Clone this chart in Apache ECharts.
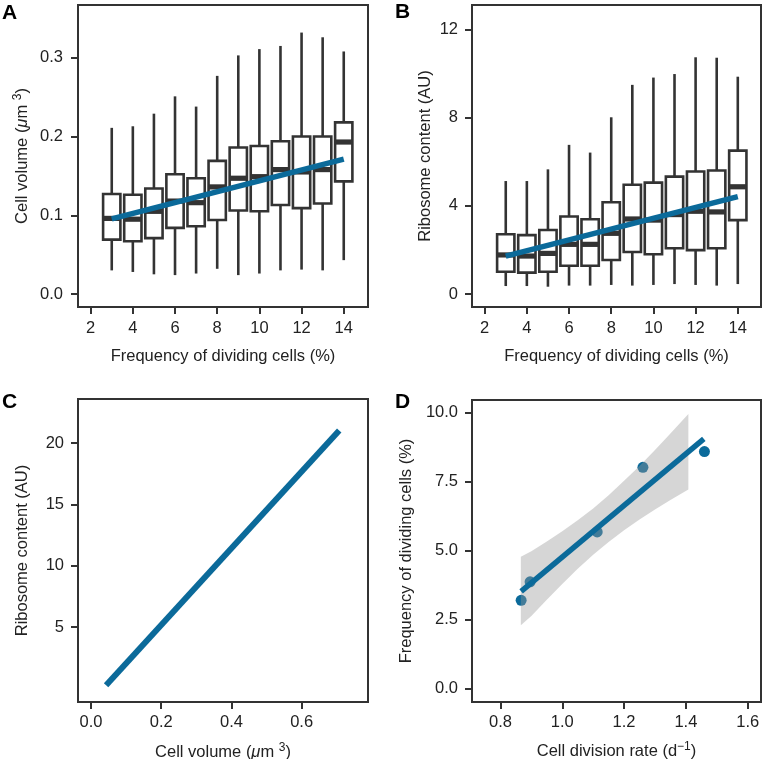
<!DOCTYPE html>
<html>
<head>
<meta charset="utf-8">
<script src="https://cdn.jsdelivr.net/npm/echarts@6/dist/echarts.min.js"></script>
<style>html,body{margin:0;padding:0;background:#fff;}#c{width:762px;height:759px;}</style>
</head>
<body>
<div id="c"></div>
<script>
// ---------- Data ----------
// Panel A: cell volume boxplots by frequency of dividing cells
const boxX = [3, 4, 5, 6, 7, 8, 9, 10, 11, 12, 13, 14];
const volMin = [0.030, 0.028, 0.025, 0.024, 0.026, 0.032, 0.024, 0.026, 0.030, 0.031, 0.030, 0.043];
const volQ1  = [0.069, 0.067, 0.071, 0.084, 0.086, 0.094, 0.106, 0.105, 0.113, 0.109, 0.115, 0.143];
const volMed = [0.096, 0.095, 0.105, 0.118, 0.116, 0.136, 0.147, 0.149, 0.158, 0.155, 0.158, 0.193];
const volQ3  = [0.127, 0.126, 0.134, 0.152, 0.147, 0.169, 0.186, 0.188, 0.194, 0.200, 0.200, 0.218];
const volMax = [0.211, 0.213, 0.229, 0.251, 0.238, 0.277, 0.303, 0.311, 0.315, 0.332, 0.326, 0.308];
const fitAx = [3, 14];
const fitAy = [0.0953, 0.1712];

// Panel B: ribosome content boxplots
const riboMin = [0.36, 0.36, 0.33, 0.38, 0.38, 0.41, 0.38, 0.41, 0.45, 0.41, 0.38, 0.45];
const riboQ1  = [1.01, 0.97, 1.01, 1.28, 1.28, 1.54, 1.90, 1.80, 2.07, 1.99, 2.07, 3.35];
const riboMed = [1.77, 1.72, 1.84, 2.25, 2.25, 2.75, 3.40, 3.35, 3.60, 3.75, 3.72, 4.86];
const riboQ3  = [2.71, 2.67, 2.90, 3.51, 3.39, 4.16, 4.95, 5.05, 5.32, 5.55, 5.60, 6.50];
const riboMax = [5.12, 5.12, 5.65, 6.76, 6.41, 8.01, 9.48, 9.81, 9.97, 10.73, 10.71, 9.85];
const fitBx = [3, 14];
const fitBy = [1.72, 4.41];

// Panel C: ribosome content vs cell volume (fitted line)
const fitCx = [0.043, 0.707];
const fitCy = [0.26, 21.03];

// Panel D: frequency of dividing cells vs division rate
const rateX = [0.867, 0.896, 1.113, 1.261, 1.46];
const freqY = [3.2, 3.87, 5.68, 8.02, 8.59];
const fitDx = [0.867, 1.458];
const fitDy = [3.52, 9.05];
const bandX     = [0.866, 0.9, 0.95, 1.0, 1.05, 1.1, 1.15, 1.2, 1.25, 1.3, 1.35, 1.408];
const bandUpper = [4.78, 4.98, 5.33, 5.70, 6.10, 6.53, 7.01, 7.53, 8.07, 8.65, 9.25, 9.95];
const bandLower = [2.30, 2.63, 3.22, 3.79, 4.34, 4.85, 5.31, 5.74, 6.13, 6.49, 6.84, 7.22];

// Tick values
const xTicksAB = [2, 4, 6, 8, 10, 12, 14];
const yTicksA = [0, 0.1, 0.2, 0.3];
const yTicksB = [0, 4, 8, 12];
const xTicksC = [0, 0.2, 0.4, 0.6];
const yTicksC = [5, 10, 15, 20];
const xTicksD = [0.8, 1.0, 1.2, 1.4, 1.6];
const yTicksD = [0, 2.5, 5, 7.5, 10];

// ---------- Styles ----------
const FONT = "'Liberation Sans', Arial, Helvetica, sans-serif";
const BLUE = '#0b6a9a';
const DARK = '#333333';
const TXT = '#222222';
const FS = 16.5;

const richName = {
  mu: { fontStyle: 'italic', fontSize: FS, lineHeight: 20, fontFamily: FONT, color: TXT },
  sup: { fontSize: 12, lineHeight: 12, verticalAlign: 'top', fontFamily: FONT, color: TXT }
};

function valAxis(gridIndex, min, max, ticks, digits, margin, name, nameGap) {
  return {
    type: 'value', gridIndex, min, max,
    axisLine: { show: false, onZero: false },
    splitLine: { show: false },
    axisTick: { show: true, inside: false, length: 7, lineStyle: { color: DARK, width: 2 }, customValues: ticks },
    axisLabel: {
      customValues: ticks, fontSize: FS, color: TXT, fontFamily: FONT, margin,
      formatter: v => digits == null ? String(v) : Number(v).toFixed(digits)
    },
    name, nameLocation: 'middle', nameGap, nameMoveOverlap: false,
    nameTextStyle: { fontSize: FS, lineHeight: 20, color: TXT, fontFamily: FONT, rich: richName }
  };
}

function gridAt(left, top, width, height) {
  return { left, top, width, height, show: true, borderColor: DARK, borderWidth: 2,
    backgroundColor: 'transparent', containLabel: false, outerBoundsMode: 'none' };
}

function boxRows(mn, q1, md, q3, mx) {
  return boxX.map((x, i) => [x, mn[i], q1[i], md[i], q3[i], mx[i]]);
}

function renderBox(params, api) {
  const x = api.value(0);
  const pMin = api.coord([x, api.value(1)]);
  const pQ1 = api.coord([x, api.value(2)]);
  const pMed = api.coord([x, api.value(3)]);
  const pQ3 = api.coord([x, api.value(4)]);
  const pMax = api.coord([x, api.value(5)]);
  const w = api.size([0.82, 0])[0];
  const cx = pMin[0];
  return {
    type: 'group',
    children: [
      { type: 'line', shape: { x1: cx, y1: pMin[1], x2: cx, y2: pMax[1] },
        style: { stroke: DARK, lineWidth: 2.6 } },
      { type: 'rect', shape: { x: cx - w / 2, y: pQ3[1], width: w, height: pQ1[1] - pQ3[1] },
        style: { fill: '#ffffff', stroke: DARK, lineWidth: 2.6 } },
      { type: 'line', shape: { x1: cx - w / 2, y1: pMed[1], x2: cx + w / 2, y2: pMed[1] },
        style: { stroke: DARK, lineWidth: 5.2 } }
    ]
  };
}

function pairs(xs, ys) { return xs.map((x, i) => [x, ys[i]]); }

function fitLine(idx, xs, ys, width) {
  return {
    type: 'line', xAxisIndex: idx, yAxisIndex: idx, data: pairs(xs, ys),
    showSymbol: false, symbol: 'none', silent: true, z: 5,
    lineStyle: { color: BLUE, width: width, cap: 'butt' }, animation: false
  };
}

const chart = echarts.init(document.getElementById('c'), null, { renderer: 'canvas' });

const option = {
  animation: false,
  backgroundColor: '#ffffff',
  textStyle: { fontFamily: FONT },
  grid: [
    gridAt(78, 5, 290, 302),
    gridAt(472, 5, 289, 302),
    gridAt(78, 399, 290, 303),
    gridAt(472, 400, 289, 302)
  ],
  xAxis: [
    valAxis(0, 1.4, 15.15, xTicksAB, null, 13, 'Frequency of dividing cells (%)', 39),
    valAxis(1, 1.4, 15.1, xTicksAB, null, 13, 'Frequency of dividing cells (%)', 39),
    valAxis(2, -0.037, 0.789, xTicksC, 1, 12, 'Cell volume ({mu|μ}m {sup|3})', 40),
    valAxis(3, 0.708, 1.643, xTicksD, 1, 12, 'Cell division rate (d{sup|−1})', 39)
  ],
  yAxis: [
    valAxis(0, -0.0165, 0.367, yTicksA, 1, 15, 'Cell volume ({mu|μ}m {sup|3})', 46),
    valAxis(1, -0.59, 13.1, yTicksB, null, 14, 'Ribosome content (AU)', 37),
    valAxis(2, -1.1, 23.6, yTicksC, null, 14, 'Ribosome content (AU)', 46),
    valAxis(3, -0.486, 10.46, yTicksD, 1, 14, 'Frequency of dividing cells (%)', 56)
  ],
  graphic: [
    { type: 'text', left: 2, top: 3, style: { text: 'A', fontSize: 21, fontWeight: 'bold', fontFamily: FONT, fill: '#000' } },
    { type: 'text', left: 395, top: 2, style: { text: 'B', fontSize: 21, fontWeight: 'bold', fontFamily: FONT, fill: '#000' } },
    { type: 'text', left: 2, top: 392, style: { text: 'C', fontSize: 21, fontWeight: 'bold', fontFamily: FONT, fill: '#000' } },
    { type: 'text', left: 395, top: 392, style: { text: 'D', fontSize: 21, fontWeight: 'bold', fontFamily: FONT, fill: '#000' } }
  ],
  series: [
    { type: 'custom', xAxisIndex: 0, yAxisIndex: 0, renderItem: renderBox,
      encode: { x: 0, y: [1, 2, 3, 4, 5] }, data: boxRows(volMin, volQ1, volMed, volQ3, volMax), z: 2, silent: true },
    fitLine(0, fitAx, fitAy, 5.5),
    { type: 'custom', xAxisIndex: 1, yAxisIndex: 1, renderItem: renderBox,
      encode: { x: 0, y: [1, 2, 3, 4, 5] }, data: boxRows(riboMin, riboQ1, riboMed, riboQ3, riboMax), z: 2, silent: true },
    fitLine(1, fitBx, fitBy, 5.5),
    fitLine(2, fitCx, fitCy, 6),
    { type: 'scatter', xAxisIndex: 3, yAxisIndex: 3, data: pairs(rateX, freqY),
      symbolSize: 11, itemStyle: { color: BLUE, opacity: 1 }, z: 2, silent: true },
    { type: 'custom', xAxisIndex: 3, yAxisIndex: 3, z: 3, silent: true,
      data: [[bandX[0], bandLower[0]]],
      renderItem: function (params, api) {
        const pts = [];
        for (let i = 0; i < bandX.length; i++) pts.push(api.coord([bandX[i], bandUpper[i]]));
        for (let i = bandX.length - 1; i >= 0; i--) pts.push(api.coord([bandX[i], bandLower[i]]));
        return { type: 'polygon', shape: { points: pts }, style: { fill: 'rgba(153,153,153,0.4)' } };
      } },
    fitLine(3, fitDx, fitDy, 5.5)
  ]
};
chart.setOption(option);
</script>
</body>
</html>
